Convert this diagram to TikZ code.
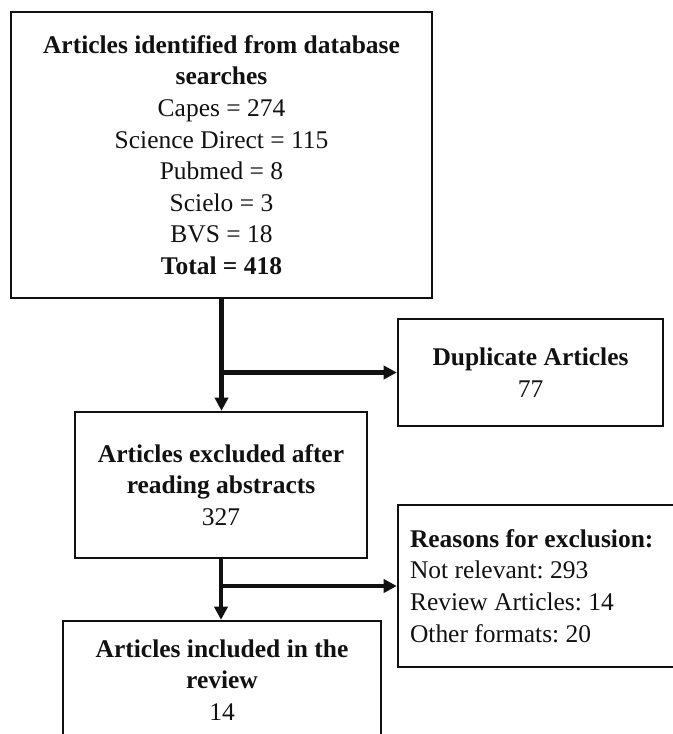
\documentclass[tikz,border=0pt]{standalone}
\usepackage{tikz}
\usepackage{xcolor}
\usepackage{fontspec}
\setmainfont{Liberation Serif}
\usetikzlibrary{calc,arrows.meta}
\definecolor{inkBlack}{RGB}{17,17,17}
\tikzset{
  stageBox/.style={draw=inkBlack,line width=1.4pt,inner sep=0pt,align=center,text=inkBlack,
    font=\fontsize{14.5}{18}\selectfont\frenchspacing},
  flowArrow/.style={draw=inkBlack,line width=2.3pt,-{Triangle[length=7.5pt,width=7.5pt]}}
}

\begin{document}
\begin{tikzpicture}[x=0.02cm,y=-0.02cm]
\useasboundingbox (0,0) rectangle (673,734);
\clip (0,0) rectangle (673,734);
\node[stageBox,minimum width=8.42cm,minimum height=5.72cm] (ident) at (221.5,155) {
{\bfseries Articles identified from database}\\
{\bfseries searches}\\
Capes = 274\\
Science Direct = 115\\
Pubmed = 8\\
Scielo = 3\\
BVS = 18\\
{\bfseries Total = 418}
};
\node[stageBox,minimum width=5.30cm,minimum height=2.14cm] (dup) at (530.5,372.5) {
{\bfseries Duplicate Articles}\\
77
};
\node[stageBox,minimum width=5.84cm,minimum height=2.92cm] (abstr) at (221,485) {
{\bfseries Articles excluded after}\\
{\bfseries reading abstracts}\\
327
};
\node[stageBox,minimum width=5.84cm,minimum height=3.24cm,text width=5.36cm,align=flush left] (reasons) at (544,586) {
{\bfseries Reasons for exclusion:}\\
Not relevant: 293\\
Review Articles: 14\\
Other formats: 20
};
\node[stageBox,minimum width=6.36cm,minimum height=2.36cm] (incl) at (222,680) {
{\bfseries Articles included in the}\\
{\bfseries review}\\
14
};
% connectors
\draw[flowArrow] (ident.south) -- (ident.south |- abstr.north);
\draw[flowArrow] (ident.south |- dup.west) -- (dup.west);
\draw[flowArrow] (abstr.south) -- (abstr.south |- incl.north);
\draw[flowArrow] (abstr.south |- reasons.west) -- (reasons.west);
\end{tikzpicture}
\end{document}
